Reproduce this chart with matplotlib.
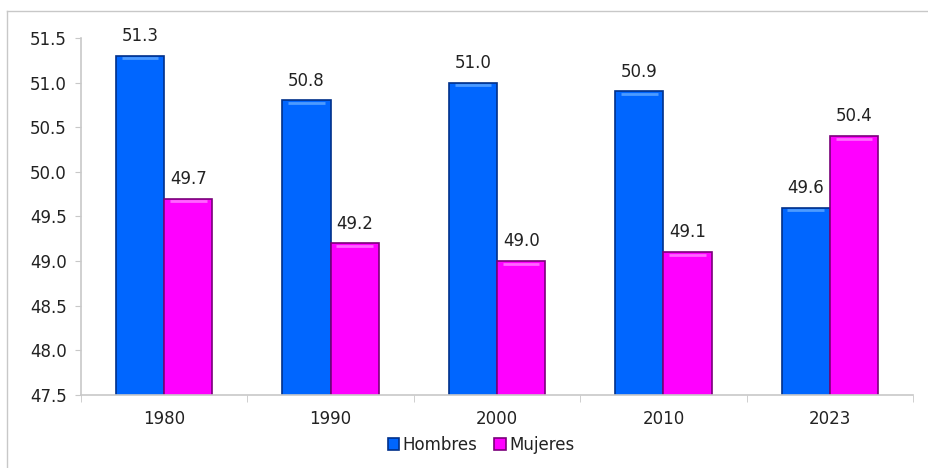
import matplotlib
matplotlib.use("Agg")
from matplotlib import pyplot as plt
from matplotlib.lines import Line2D
import numpy as np

# --- datos ---
anios = ["1980", "1990", "2000", "2010", "2023"]
hombres = [51.3, 50.8, 51.0, 50.9, 49.6]
mujeres = [49.7, 49.2, 49.0, 49.1, 50.4]

plt.rcParams['font.family'] = ['DejaVu Sans']

fig = plt.figure(figsize=(9.29, 4.68), dpi=100)
ax = fig.add_axes([0.087, 0.156, 0.896, 0.763])

x = np.arange(len(anios))
ancho = 0.29
gris = '#c8c8c8'

b1 = ax.bar(x - ancho / 2, hombres, ancho, bottom=0, color='#0066ff',
            edgecolor='#00308a', linewidth=1.2, label='Hombres')
b2 = ax.bar(x + ancho / 2, mujeres, ancho, bottom=0, color='#ff00ff',
            edgecolor='#7a007a', linewidth=1.2, label='Mujeres')

# brillo en la parte superior de las barras
for barras, brillo in ((b1, '#4d9bff'), (b2, '#ff66ff')):
    for b in barras:
        ax.plot([b.get_x() + 0.12 * ancho, b.get_x() + 0.88 * ancho],
                [b.get_height() - 0.03] * 2, color=brillo, lw=2, solid_capstyle='butt')

for barras, vals in ((b1, hombres), (b2, mujeres)):
    for b, v in zip(barras, vals):
        ax.text(b.get_x() + b.get_width() / 2, v + 0.12, f"{v:.1f}",
                ha='center', va='bottom', fontsize=12, color='#222222')

ax.set_ylim(47.5, 51.5)
ax.set_xlim(-0.5, len(anios) - 0.5)
ax.set_yticks(np.arange(47.5, 51.51, 0.5))
ax.set_yticklabels([f"{t:.1f}" for t in np.arange(47.5, 51.51, 0.5)])

ax.set_xticks(x)
ax.set_xticklabels(anios)
ax.set_xticks(np.arange(-0.5, len(anios)), minor=True)
ax.tick_params(axis='x', which='major', length=0, pad=11, labelsize=12, labelcolor='#222222')
ax.tick_params(axis='x', which='minor', length=5, color=gris, direction='out')
ax.tick_params(axis='y', length=4, color=gris, labelsize=12, pad=6, labelcolor='#222222')

for s in ('top', 'right'):
    ax.spines[s].set_visible(False)
for s in ('left', 'bottom'):
    ax.spines[s].set_color(gris)
    ax.spines[s].set_linewidth(1.2)

leg = ax.legend(loc='center', bbox_to_anchor=(0.481, -0.14), ncol=2, frameon=False,
                fontsize=12, handlelength=0.7, handleheight=0.7, handletextpad=0.2,
                columnspacing=1.0)
for t in leg.get_texts():
    t.set_color('#222222')

# marco exterior
fig.add_artist(Line2D([7 / 929, 1], [1 - 11 / 468] * 2, color=gris, lw=1))
fig.add_artist(Line2D([7 / 929] * 2, [0, 1 - 11 / 468], color=gris, lw=1))

fig.savefig("out.png", dpi=100)
